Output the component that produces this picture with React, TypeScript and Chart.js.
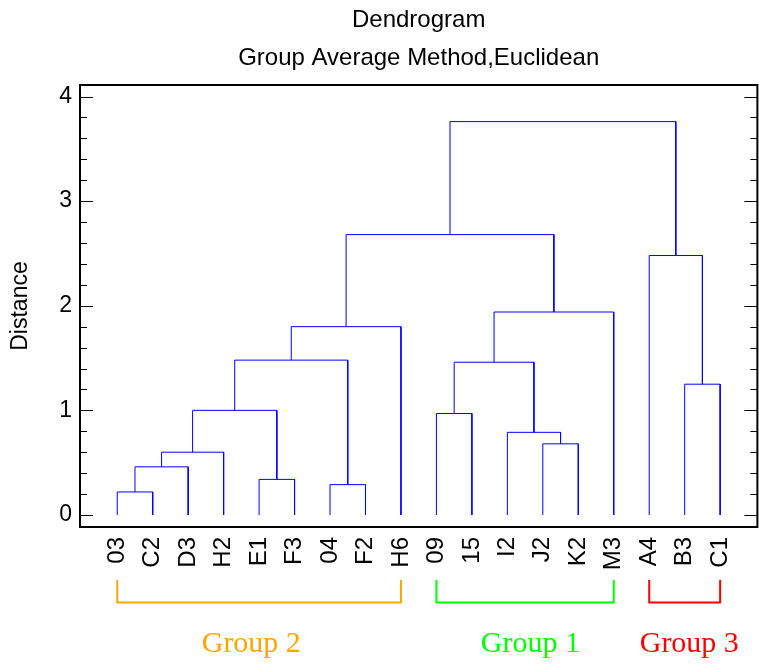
import React, { useEffect, useRef } from 'react';
import { Chart, registerables } from 'chart.js';

Chart.register(...registerables);

// ---- data ----
const titleText = 'Dendrogram';
const subtitleText = 'Group Average Method,Euclidean';
const yAxisTitle = 'Distance';

const leaves = ['03', 'C2', 'D3', 'H2', 'E1', 'F3', '04', 'F2', 'H6', '09', '15', 'I2', 'J2', 'K2', 'M3', 'A4', 'B3', 'C1'];

// merges: node ids 0..17 are leaves, merge k creates node 18+k
const mergeLeft = [0, 18, 19, 4, 6, 20, 23, 24, 9, 12, 11, 26, 29, 25, 16, 15, 31];
const mergeRight = [1, 2, 3, 5, 7, 21, 22, 8, 10, 13, 27, 28, 14, 30, 17, 32, 33];
const mergeHeight = [0.22, 0.46, 0.6, 0.34, 0.29, 1.0, 1.48, 1.8, 0.97, 0.68, 0.79, 1.46, 1.94, 2.68, 1.25, 2.48, 3.76];

const yTicks = [0, 1, 2, 3, 4];
const yMinorStep = 0.2;

const groupNames = ['Group 2', 'Group 1', 'Group 3'];
const groupFirst = [0, 9, 15];
const groupLast = [8, 14, 17];
const groupColors = ['#FFA500', '#00FF00', '#FF0000'];
const groupLabelAt = [3.78, 11.65, 16.13];

// ---- build link datasets ----
function buildLinks() {
  const nx: number[] = leaves.map((_, i) => i);
  const nh: number[] = leaves.map(() => 0);
  const sets: any[] = [];
  for (let k = 0; k < mergeHeight.length; k++) {
    const a = mergeLeft[k];
    const b = mergeRight[k];
    const h = mergeHeight[k];
    sets.push({
      data: [
        { x: nx[a], y: nh[a] },
        { x: nx[a], y: h },
        { x: nx[b], y: h },
        { x: nx[b], y: nh[b] },
      ],
      borderColor: '#0000FF',
      borderWidth: 1,
      pointRadius: 0,
      pointHoverRadius: 0,
      fill: false,
      tension: 0,
      showLine: true,
    });
    nx.push((nx[a] + nx[b]) / 2);
    nh.push(h);
  }
  return sets;
}

const SANS = "'Liberation Sans', Arial, sans-serif";
const SERIF = "'Liberation Serif', 'Times New Roman', serif";

const decorPlugin = {
  id: 'decor',
  afterDraw(chart: any) {
    const ctx = chart.ctx;
    const area = chart.chartArea;
    const xs = chart.scales.x;
    const ys = chart.scales.y;
    ctx.save();
    // frame
    ctx.strokeStyle = '#000';
    ctx.lineWidth = 2;
    ctx.strokeRect(area.left, area.top, area.right - area.left, area.bottom - area.top);
    // ticks (inward, both sides)
    ctx.lineWidth = 1;
    const nMinor = Math.round((yTicks[yTicks.length - 1] - yTicks[0]) / yMinorStep);
    for (let k = 0; k <= nMinor; k++) {
      const v = yTicks[0] + k * yMinorStep;
      const py = Math.round(ys.getPixelForValue(v)) + 0.5;
      const major = yTicks.some((t) => Math.abs(t - v) < 1e-6);
      const len = major ? 13 : 7;
      ctx.beginPath();
      ctx.moveTo(area.left, py);
      ctx.lineTo(area.left + len, py);
      ctx.moveTo(area.right, py);
      ctx.lineTo(area.right - len, py);
      ctx.stroke();
    }
    // titles
    const cx = (area.left + area.right) / 2;
    ctx.fillStyle = '#000';
    ctx.font = `24px ${SANS}`;
    ctx.textAlign = 'center';
    ctx.textBaseline = 'middle';
    ctx.fillText(titleText, cx, 20);
    ctx.fillText(subtitleText, cx, 58);
    // group brackets
    ctx.lineWidth = 2;
    for (let g = 0; g < groupNames.length; g++) {
      const x1 = xs.getPixelForValue(groupFirst[g]);
      const x2 = xs.getPixelForValue(groupLast[g]);
      ctx.strokeStyle = groupColors[g];
      ctx.beginPath();
      ctx.moveTo(x1, 580);
      ctx.lineTo(x1, 602.5);
      ctx.lineTo(x2, 602.5);
      ctx.lineTo(x2, 580);
      ctx.stroke();
      ctx.fillStyle = groupColors[g];
      ctx.font = `30px ${SERIF}`;
      ctx.textAlign = 'center';
      ctx.textBaseline = 'alphabetic';
      ctx.fillText(groupNames[g], xs.getPixelForValue(groupLabelAt[g]), 651.5);
    }
    ctx.restore();
  },
};

export default function App() {
  const ref = useRef<HTMLCanvasElement | null>(null);
  useEffect(() => {
    if (!ref.current) return;
    const chart = new Chart(ref.current, {
      type: 'line',
      data: { datasets: buildLinks() },
      options: {
        animation: false,
        responsive: true,
        maintainAspectRatio: false,
        layout: { padding: { top: 85, right: 1, left: 0, bottom: 0 } },
        plugins: {
          legend: { display: false },
          tooltip: { enabled: false },
          title: { display: false },
        },
        events: [],
        scales: {
          x: {
            type: 'linear',
            min: -1.05,
            max: leaves.length - 1 + 1.05,
            afterBuildTicks: (s: any) => {
              s.ticks = leaves.map((_, i) => ({ value: i }));
            },
            afterFit: (s: any) => {
              s.height = 137;
            },
            grid: { display: false, drawTicks: false },
            border: { display: false },
            ticks: {
              autoSkip: false,
              minRotation: 90,
              maxRotation: 90,
              padding: 10,
              color: '#000',
              font: { size: 24, family: SANS },
              callback: (v: any) => leaves[Math.round(Number(v))] ?? '',
            },
          },
          y: {
            type: 'linear',
            min: -0.115,
            max: 4.11,
            afterBuildTicks: (s: any) => {
              s.ticks = yTicks.map((v) => ({ value: v }));
            },
            afterFit: (s: any) => {
              s.width = 80;
            },
            grid: { display: false, drawTicks: false },
            border: { display: false },
            ticks: {
              padding: 8,
              color: '#000',
              font: { size: 23, family: SANS },
            },
            title: {
              display: true,
              text: yAxisTitle,
              color: '#000',
              font: { size: 23, family: SANS },
              padding: { top: 7, bottom: 0 },
            },
          },
        },
      },
      plugins: [decorPlugin],
    });
    return () => chart.destroy();
  }, []);
  return (
    <div style={{ position: 'absolute', left: 0, top: 0, width: 759, height: 664 }}>
      <canvas ref={ref} />
    </div>
  );
}
